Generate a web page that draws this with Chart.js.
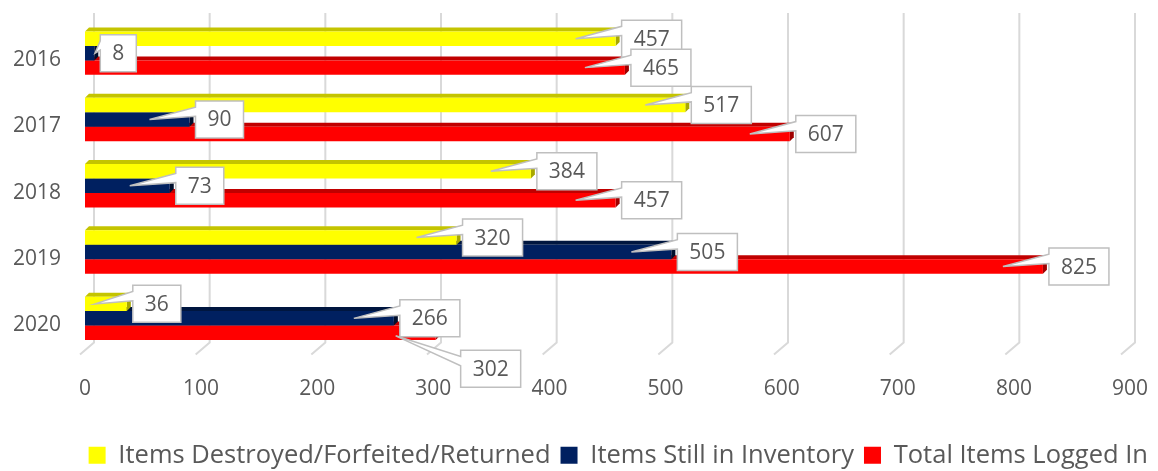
<!DOCTYPE html>
<html>
<head>
<meta charset="utf-8">
<script src="https://cdn.jsdelivr.net/npm/chart.js@4.4.1/dist/chart.umd.min.js"></script>
<style>
  html, body { margin: 0; padding: 0; background: #fff; }
  canvas { display: block; }
</style>
</head>
<body>
<canvas id="chart" width="1158" height="471"></canvas>
<script>
// data
var years = ['2016', '2017', '2018', '2019', '2020'];
var destroyed = [457, 517, 384, 320, 36];
var inventory = [8, 90, 73, 505, 266];
var loggedIn = [465, 607, 457, 825, 302];
var xMax = 900;
var xStep = 100;

var TEXT = '#595959';
Chart.defaults.font.family = '"Open Sans", sans-serif';
Chart.defaults.color = TEXT;

// back wall gridlines with the little floor bend of the 3D chart
var wallPlugin = {
    id: 'wall',
    beforeDatasetsDraw: function (chart) {
        var x = chart.scales.x, area = chart.chartArea, ctx = chart.ctx;
        ctx.save();
        ctx.strokeStyle = '#d9d9d9';
        ctx.lineWidth = 2;
        x.ticks.forEach(function (t) {
            var bx = x.getPixelForValue(t.value) + 9 - 4 * t.value / xMax;
            ctx.beginPath();
            ctx.moveTo(bx, area.top - 7);
            ctx.lineTo(bx, area.bottom - 9);
            ctx.lineTo(bx - 14, area.bottom + 3);
            ctx.stroke();
        });
        ctx.restore();
    }
};

// top and end faces, drawn under each bar
var depthPlugin = {
    id: 'depth',
    beforeDatasetDraw: function (chart, args) {
        var ds = chart.data.datasets[args.index];
        var ctx = chart.ctx, d = 4;
        ctx.save();
        args.meta.data.forEach(function (bar) {
            var top = bar.y - bar.height / 2, bottom = bar.y + bar.height / 2;
            ctx.fillStyle = ds.topColor;
            ctx.beginPath();
            ctx.moveTo(bar.base, top);
            ctx.lineTo(bar.base + d, top - d);
            ctx.lineTo(bar.x + d, top - d);
            ctx.lineTo(bar.x, top);
            ctx.closePath();
            ctx.fill();
            ctx.fillStyle = ds.endColor;
            ctx.beginPath();
            ctx.moveTo(bar.x, top);
            ctx.lineTo(bar.x + d, top - d);
            ctx.lineTo(bar.x + d, bottom - d);
            ctx.lineTo(bar.x, bottom);
            ctx.closePath();
            ctx.fill();
        });
        ctx.restore();
    }
};

// excel style rectangular callouts
var calloutShift = {'2-4': [19, 36]};

function calloutPath(ctx, l, t, w, h, tx, ty) {
    var cx = l + w / 2, cy = t + h / 2;
    var dx = tx - cx, dy = ty - cy;
    var side = Math.abs(dx * h / w) >= Math.abs(dy);
    ctx.beginPath();
    ctx.moveTo(l, t);
    if (!side && dy < 0) {
        ctx.lineTo(l + w * (dx > 0 ? 7 : 2) / 12, t);
        ctx.lineTo(tx, ty);
        ctx.lineTo(l + w * (dx > 0 ? 10 : 5) / 12, t);
    }
    ctx.lineTo(l + w, t);
    ctx.lineTo(l + w, t + h);
    ctx.lineTo(l, t + h);
    if (side && dx < 0) {
        ctx.lineTo(l, t + h * (dy > 0 ? 10 : 5) / 12);
        ctx.lineTo(tx, ty);
        ctx.lineTo(l, t + h * (dy > 0 ? 7 : 2) / 12);
    }
    ctx.closePath();
}

var calloutPlugin = {
    id: 'callouts',
    afterDatasetsDraw: function (chart) {
        var ctx = chart.ctx;
        ctx.save();
        ctx.font = '21px "Open Sans", sans-serif';
        ctx.textAlign = 'center';
        ctx.textBaseline = 'middle';
        chart.data.datasets.forEach(function (ds, di) {
            chart.getDatasetMeta(di).data.forEach(function (bar, i) {
                var txt = String(ds.data[i]);
                var w = ctx.measureText(txt).width + 24, h = 37;
                var shift = calloutShift[di + '-' + i] || [0, 0];
                var l = bar.x + 6 + shift[0];
                var t = bar.y - h / 2 + shift[1];
                var tx = Math.max(bar.x - 40, bar.base + 10);
                var ty = bar.y + (shift[1] ? 3 : 0);
                ctx.fillStyle = '#fff';
                ctx.strokeStyle = '#bfbfbf';
                ctx.lineWidth = 1.5;
                calloutPath(ctx, l, t, w, h, tx, ty);
                ctx.fill();
                ctx.stroke();
                ctx.fillStyle = TEXT;
                ctx.fillText(txt, l + w / 2, t + h / 2 + 1);
            });
        });
        ctx.restore();
    }
};

// push the legend down a little, like the original
var legendNudge = {
    id: 'legendNudge',
    afterLayout: function (chart) {
        chart.legend.top += 7;
        chart.legend.bottom += 7;
    }
};

var barStyle = {categoryPercentage: 0.655, barPercentage: 1, borderWidth: 0};

new Chart(document.getElementById('chart'), {
    type: 'bar',
    data: {
        labels: years,
        datasets: [
            Object.assign({
                label: 'Items Destroyed/Forfeited/Returned',
                data: destroyed,
                backgroundColor: '#ffff00',
                topColor: '#c4c400',
                endColor: '#a8a800'
            }, barStyle),
            Object.assign({
                label: 'Items Still in Inventory',
                data: inventory,
                backgroundColor: '#002060',
                topColor: '#00163f',
                endColor: '#000f2c'
            }, barStyle),
            Object.assign({
                label: 'Total Items Logged In',
                data: loggedIn,
                backgroundColor: '#ff0000',
                topColor: '#c00000',
                endColor: '#a00000'
            }, barStyle)
        ]
    },
    options: {
        indexAxis: 'y',
        responsive: false,
        animation: false,
        events: [],
        layout: {padding: {top: 20, left: 0, right: 0, bottom: 0}},
        scales: {
            x: {
                min: 0,
                max: xMax,
                ticks: {stepSize: xStep, padding: 17, font: {size: 21}, color: TEXT},
                grid: {display: false},
                border: {display: false},
                afterFit: function (s) {
                    s.height = 74;
                    s.paddingRight = 28;
                }
            },
            y: {
                ticks: {padding: 16, labelOffset: 7, font: {size: 21}, color: TEXT},
                grid: {display: false},
                border: {display: false},
                afterFit: function (s) {
                    s.width = 85;
                    s.paddingTop = 0;
                    s.paddingBottom = 0;
                }
            }
        },
        plugins: {
            legend: {
                position: 'bottom',
                align: 'end',
                labels: {boxWidth: 17, boxHeight: 17, padding: 10, font: {size: 25.5}, color: TEXT}
            },
            tooltip: {enabled: false}
        }
    },
    plugins: [wallPlugin, depthPlugin, calloutPlugin, legendNudge]
});
</script>
</body>
</html>
